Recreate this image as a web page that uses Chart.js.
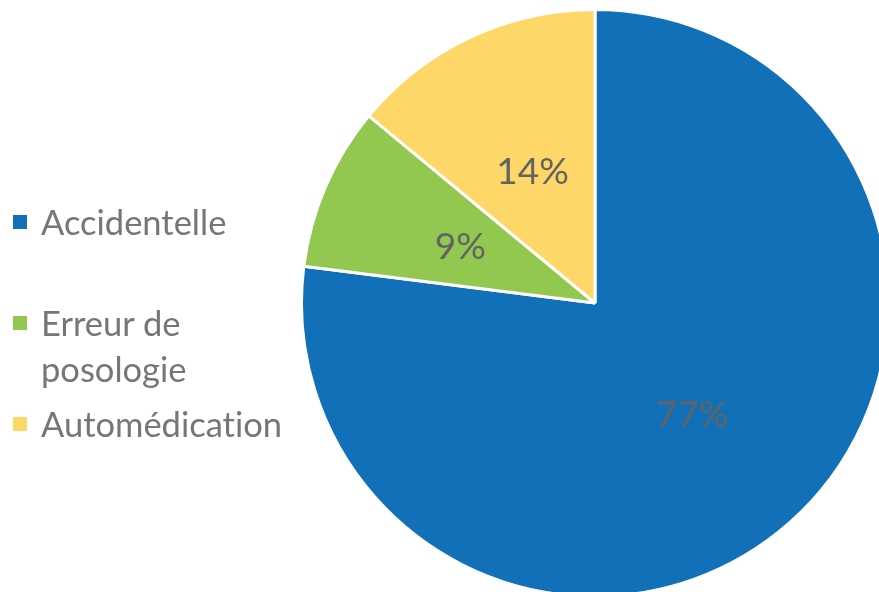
<!DOCTYPE html>
<html>
<head>
<meta charset="utf-8">
<script src="https://cdn.jsdelivr.net/npm/chart.js@4.4.1/dist/chart.umd.min.js"></script>
<style>
  html, body { margin: 0; padding: 0; background: #fff; overflow: hidden; }
  #wrap { position: relative; width: 879px; height: 592px; overflow: hidden; }
  #pie { position: absolute; left: 0; top: 0; }
  #legend { position: absolute; left: 13px; top: 199px; font-family: Lato, sans-serif; font-size: 34.5px; color: #767676; font-variant-ligatures: none; }
  .item { position: relative; box-sizing: border-box; padding-left: 28px; line-height: 46px; width: 282px; }
  .item .box { position: absolute; left: 0; top: 16px; width: 14px; height: 14px; }
</style>
</head>
<body>
<div id="wrap">
  <canvas id="pie" width="900" height="600"></canvas>
  <div id="legend"></div>
</div>
<script>
// causes of the incidents, share in percent
var labels = ['Accidentelle', 'Erreur de posologie', 'Automédication'];
var values = [77, 9, 14];
var colors = ['#1170b8', '#92c850', '#fdd767'];
// spacing above each legend entry
var legendGaps = [0, 55, 9];

// percent labels in the middle of each slice
var sliceLabels = {
    id: 'sliceLabels',
    afterDatasetsDraw: function(chart) {
        var ctx = chart.ctx;
        var meta = chart.getDatasetMeta(0);
        ctx.save();
        ctx.font = '37px Lato, sans-serif';
        ctx.fillStyle = '#636363';
        ctx.textAlign = 'center';
        ctx.textBaseline = 'middle';
        meta.data.forEach(function(arc, i) {
            var p = arc.getCenterPoint();
            ctx.fillText(values[i] + '%', p.x, p.y + 2);
        });
        ctx.restore();
    }
};

var ctx = document.getElementById('pie').getContext('2d');
var chart = new Chart(ctx, {
    type: 'pie',
    data: {
        labels: labels,
        datasets: [{
            data: values,
            backgroundColor: colors,
            borderColor: '#ffffff',
            borderWidth: 3
        }]
    },
    options: {
        responsive: false,
        animation: false,
        layout: { padding: { left: 300, top: 8, right: 10, bottom: 2 } },
        plugins: {
            legend: { display: false },
            tooltip: { enabled: false }
        }
    },
    plugins: [sliceLabels]
});

// legend built from the same arrays
var legend = document.getElementById('legend');
labels.forEach(function(label, i) {
    var item = document.createElement('div');
    item.className = 'item';
    item.style.marginTop = legendGaps[i] + 'px';
    var box = document.createElement('span');
    box.className = 'box';
    box.style.background = colors[i];
    item.appendChild(box);
    item.appendChild(document.createTextNode(label));
    legend.appendChild(item);
});
</script>
</body>
</html>
